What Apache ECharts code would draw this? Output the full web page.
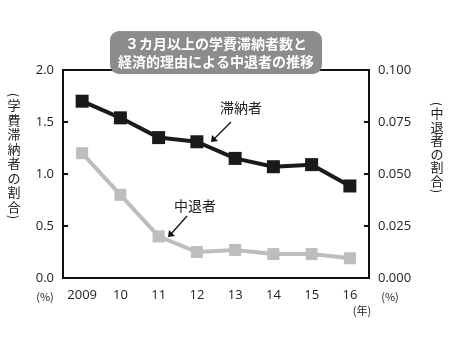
<!DOCTYPE html>
<html><head><meta charset="utf-8">
<script src="https://cdn.jsdelivr.net/npm/echarts@6/dist/echarts.min.js"></script>
<style>html,body{margin:0;padding:0;background:#fff}#c{width:456px;height:346px}</style>
</head><body><div id="c"></div>
<script>
const years = ['2009','10','11','12','13','14','15','16'];
const delinquent = [1.70, 1.54, 1.35, 1.31, 1.15, 1.07, 1.09, 0.885];
const dropout = [0.060, 0.040, 0.020, 0.0125, 0.0135, 0.0115, 0.0115, 0.0095];
const leftTicks = [0, 0.5, 1.0, 1.5, 2.0];
const rightTicks = [0, 0.025, 0.05, 0.075, 0.1];

const FONT = '"Noto Sans CJK JP", "Noto Sans", sans-serif';
const chart = echarts.init(document.getElementById('c'));
const vert = s => s.split('').join('\n');
const paren = (ch, x, y) => ({ type: 'text', x: x, y: y, rotation: -Math.PI / 2,
  style: { text: ch, fill: '#222', font: '12px ' + FONT, textAlign: 'center', textVerticalAlign: 'middle' } });
chart.setOption({
  animation: false,
  grid: { left: 63, right: 87, top: 70, bottom: 68, show: true, borderColor: '#111', borderWidth: 2, backgroundColor: 'transparent' },
  xAxis: {
    type: 'category', data: years, boundaryGap: true,
    axisLine: { lineStyle: { color: '#111', width: 2 } },
    axisTick: { inside: true, alignWithLabel: true, interval: 0, length: 5, lineStyle: { color: '#111', width: 2 } },
    axisLabel: { color: '#222', fontSize: 13, interval: 0, fontFamily: 'Open Sans, sans-serif', margin: 11 },
    splitLine: { show: false }
  },
  yAxis: [
    { type: 'value', min: 0, max: 2, interval: 0.5,
      axisLine: { show: true, lineStyle: { color: '#111', width: 2 } },
      axisTick: { show: true, inside: true, length: 5, lineStyle: { color: '#111', width: 2 } },
      axisLabel: { color: '#222', fontSize: 13, fontFamily: 'Open Sans, sans-serif', margin: 9, formatter: v => v.toFixed(1) },
      splitLine: { show: false } },
    { type: 'value', min: 0, max: 0.1, interval: 0.025, position: 'right',
      axisLine: { show: true, lineStyle: { color: '#111', width: 2 } },
      axisTick: { show: true, inside: true, length: 5, lineStyle: { color: '#111', width: 2 } },
      axisLabel: { color: '#222', fontSize: 13, fontFamily: 'Open Sans, sans-serif', margin: 9, formatter: v => v.toFixed(3) },
      splitLine: { show: false } }
  ],
  series: [
    { type: 'line', name: '中退者', yAxisIndex: 1, data: dropout, symbol: 'rect', symbolSize: 12,
      lineStyle: { color: '#bdbdbf', width: 4 }, itemStyle: { color: '#bdbdbf' }, z: 2 },
    { type: 'line', name: '滞納者', yAxisIndex: 0, data: delinquent, symbol: 'rect', symbolSize: 13,
      lineStyle: { color: '#1a1a1a', width: 4 }, itemStyle: { color: '#1a1a1a' }, z: 3 }
  ],
  graphic: [
    { type: 'rect', shape: { x: 110, y: 31, width: 212, height: 43, r: 9 }, style: { fill: '#8c8c8e' }, z: 10 },
    { type: 'text', x: 216, y: 44, z: 11, style: { text: '３カ月以上の学費滞納者数と', fill: '#fff', font: 'bold 14px ' + FONT, textAlign: 'center', textVerticalAlign: 'middle' } },
    { type: 'text', x: 216, y: 62, z: 11, style: { text: '経済的理由による中退者の推移', fill: '#fff', font: 'bold 14px ' + FONT, textAlign: 'center', textVerticalAlign: 'middle' } },
    { type: 'text', x: 14, y: 156, style: { text: vert('学費滞納者の割合'), fill: '#222', font: '13px ' + FONT, lineHeight: 14.5, textAlign: 'center', textVerticalAlign: 'middle' } },
    paren('(', 14, 95), paren(')', 14, 217),
    { type: 'text', x: 437, y: 147, style: { text: vert('中退者の割合'), fill: '#222', font: '13px ' + FONT, lineHeight: 13.6, textAlign: 'center', textVerticalAlign: 'middle' } },
    paren('(', 437, 104), paren(')', 437, 191),
    { type: 'text', x: 45, y: 297, style: { text: '(%)', fill: '#222', font: '11px ' + FONT, textAlign: 'center', textVerticalAlign: 'middle' } },
    { type: 'text', x: 390, y: 297, style: { text: '(%)', fill: '#222', font: '11px ' + FONT, textAlign: 'center', textVerticalAlign: 'middle' } },
    { type: 'text', x: 362, y: 311, style: { text: '(年)', fill: '#222', font: '11px ' + FONT, textAlign: 'center', textVerticalAlign: 'middle' } },
    { type: 'text', x: 241, y: 108, style: { text: '滞納者', fill: '#222', font: '14px ' + FONT, textAlign: 'center', textVerticalAlign: 'middle' } },
    { type: 'text', x: 195, y: 206, style: { text: '中退者', fill: '#222', font: '14px ' + FONT, textAlign: 'center', textVerticalAlign: 'middle' } },
    { type: 'line', shape: { x1: 231, y1: 122, x2: 214, y2: 139 }, style: { stroke: '#111', lineWidth: 1.3 } },
    { type: 'polygon', shape: { points: [[211, 142], [212, 135], [218, 141]] }, style: { fill: '#111' } },
    { type: 'line', shape: { x1: 187, y1: 216, x2: 171, y2: 234 }, style: { stroke: '#111', lineWidth: 1.3 } },
    { type: 'polygon', shape: { points: [[168, 237], [169, 230], [175, 236]] }, style: { fill: '#111' } }
  ]
});
</script></body></html>
